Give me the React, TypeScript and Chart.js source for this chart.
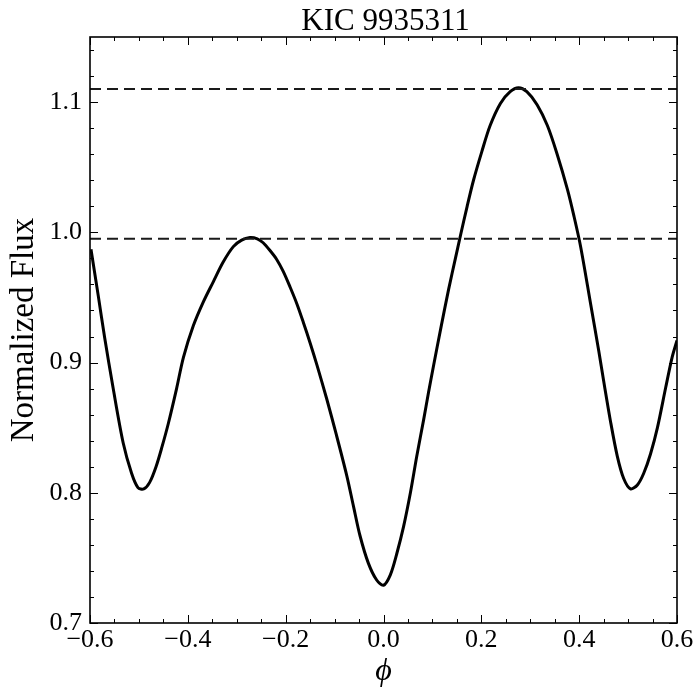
import React, { useEffect, useRef } from "react";
import { Chart, registerables } from "chart.js";

Chart.register(...registerables);

// Phase values (phi)
const phase = [
  -0.598, -0.583, -0.57, -0.553, -0.532, -0.515, -0.502, -0.49, -0.478, -0.465,
  -0.453, -0.44, -0.423, -0.409, -0.389, -0.369, -0.348, -0.328, -0.307, -0.29,
  -0.273, -0.258, -0.246, -0.232, -0.218, -0.205, -0.191, -0.177, -0.164, -0.15,
  -0.136, -0.116, -0.096, -0.075, -0.061, -0.048, -0.031, -0.014, 0.0, 0.014,
  0.027, 0.041, 0.055, 0.068, 0.082, 0.092, 0.102, 0.118, 0.133, 0.147,
  0.157, 0.171, 0.184, 0.201, 0.218, 0.239, 0.259, 0.276, 0.293, 0.314,
  0.335, 0.355, 0.376, 0.389, 0.403, 0.423, 0.44, 0.45, 0.464, 0.478,
  0.491, 0.505, 0.519, 0.532, 0.546, 0.56, 0.577, 0.59, 0.6,
];

// Normalized flux at each phase
const flux = [
  0.987, 0.951, 0.919, 0.881, 0.838, 0.815, 0.804, 0.803, 0.808, 0.82,
  0.835, 0.853, 0.88, 0.904, 0.928, 0.946, 0.962, 0.977, 0.989, 0.994,
  0.996, 0.995, 0.992, 0.986, 0.979, 0.97, 0.958, 0.945, 0.931, 0.915,
  0.898, 0.872, 0.844, 0.813, 0.789, 0.767, 0.746, 0.733, 0.729, 0.737,
  0.753, 0.774, 0.8, 0.828, 0.856, 0.877, 0.897, 0.928, 0.956, 0.98,
  0.997, 1.02, 1.04, 1.062, 1.082, 1.099, 1.108, 1.111, 1.108, 1.098,
  1.082, 1.06, 1.033, 1.013, 0.989, 0.946, 0.909, 0.886, 0.855, 0.828,
  0.811, 0.803, 0.806, 0.815, 0.83, 0.85, 0.881, 0.904, 0.917,
];

const upperLevel = 1.11;
const lowerLevel = 0.995;

const xMajorTicks = [-0.6, -0.4, -0.2, 0.0, 0.2, 0.4, 0.6];
const xTickLabels = ["\u22120.6", "\u22120.4", "\u22120.2", "0.0", "0.2", "0.4", "0.6"];
const yMajorTicks = [0.7, 0.8, 0.9, 1.0, 1.1];
const yTickLabels = ["0.7", "0.8", "0.9", "1.0", "1.1"];

const titleText = "KIC 9935311";
const xAxisTitle = "\u03d5";
const yAxisTitle = "Normalized Flux";

const X_MIN = -0.6;
const X_MAX = 0.6;
const Y_MIN = 0.7;
const Y_MAX = 1.15;
const X_MINOR_STEP = 0.05;
const Y_MINOR_STEP = 0.02;

const FONT = "'Liberation Serif', 'Times New Roman', serif";

function minorValues(min: number, max: number, step: number): number[] {
  const out: number[] = [];
  const n = Math.round((max - min) / step);
  for (let i = 0; i <= n; i++) out.push(min + i * step);
  return out;
}

const framePlugin = {
  id: "frameTicks",
  afterDraw(chart: any) {
    const { ctx, chartArea: a, scales } = chart;
    const xs = scales.x;
    const ys = scales.y;
    ctx.save();
    ctx.strokeStyle = "#000";
    ctx.lineWidth = 1;
    const majorLen = 8;
    const minorLen = 4;
    const drawX = (v: number, len: number) => {
      const px = Math.round(xs.getPixelForValue(v)) + 0.5;
      ctx.beginPath();
      ctx.moveTo(px, a.bottom);
      ctx.lineTo(px, a.bottom - len);
      ctx.moveTo(px, a.top);
      ctx.lineTo(px, a.top + len);
      ctx.stroke();
    };
    const drawY = (v: number, len: number) => {
      const py = Math.round(ys.getPixelForValue(v)) + 0.5;
      ctx.beginPath();
      ctx.moveTo(a.left, py);
      ctx.lineTo(a.left + len, py);
      ctx.moveTo(a.right, py);
      ctx.lineTo(a.right - len, py);
      ctx.stroke();
    };
    minorValues(X_MIN, X_MAX, X_MINOR_STEP).forEach((v) => drawX(v, minorLen));
    minorValues(Y_MIN, Y_MAX, Y_MINOR_STEP).forEach((v) => drawY(v, minorLen));
    xMajorTicks.forEach((v) => drawX(v, majorLen));
    yMajorTicks.forEach((v) => drawY(v, majorLen));

    ctx.lineWidth = 1.6;
    ctx.strokeRect(a.left, a.top, a.right - a.left, a.bottom - a.top);

    ctx.fillStyle = "#000";
    ctx.font = `31px ${FONT}`;
    ctx.textAlign = "center";
    ctx.textBaseline = "alphabetic";
    ctx.fillText(titleText, (a.left + a.right) / 2 + 2, 30);
    ctx.restore();
  },
};

function labelFor(ticks: number[], labels: string[], v: number): string {
  const i = ticks.findIndex((t) => Math.abs(t - v) < 1e-9);
  return i >= 0 ? labels[i] : "";
}

export default function App() {
  const canvasRef = useRef<HTMLCanvasElement | null>(null);

  useEffect(() => {
    if (!canvasRef.current) return;
    const curve = phase.map((p, i) => ({ x: p, y: flux[i] }));
    const chart = new Chart(canvasRef.current, {
      type: "scatter",
      data: {
        datasets: [
          {
            data: [
              { x: X_MIN, y: upperLevel },
              { x: X_MAX, y: upperLevel },
            ],
            showLine: true,
            borderColor: "#1a1a1a",
            borderWidth: 2,
            borderDash: [11, 6],
            pointRadius: 0,
          },
          {
            data: [
              { x: X_MIN, y: lowerLevel },
              { x: X_MAX, y: lowerLevel },
            ],
            showLine: true,
            borderColor: "#1a1a1a",
            borderWidth: 2,
            borderDash: [11, 6],
            pointRadius: 0,
          },
          {
            data: curve,
            showLine: true,
            borderColor: "#000",
            borderWidth: 3,
            tension: 0.3,
            pointRadius: 0,
          },
        ],
      },
      options: {
        responsive: false,
        animation: false,
        devicePixelRatio: 1,
        layout: { padding: { top: 37, right: 19, left: 0, bottom: 0 } },
        plugins: {
          legend: { display: false },
          tooltip: { enabled: false },
          title: { display: false },
        },
        scales: {
          x: {
            type: "linear",
            min: X_MIN,
            max: X_MAX,
            afterBuildTicks: (s: any) => {
              s.ticks = xMajorTicks.map((v) => ({ value: v }));
            },
            afterFit: (s: any) => {
              s.height = 71;
            },
            grid: { display: false, drawTicks: false },
            border: { display: false },
            ticks: {
              autoSkip: false,
              maxRotation: 0,
              padding: 2,
              color: "#000",
              font: { family: FONT, size: 26 },
              callback: (v: any) => labelFor(xMajorTicks, xTickLabels, Number(v)),
            },
            title: {
              display: true,
              text: xAxisTitle,
              color: "#000",
              font: { family: FONT, size: 32, style: "italic" },
              padding: { top: 0, bottom: 3 },
            },
          },
          y: {
            type: "linear",
            min: Y_MIN,
            max: Y_MAX,
            afterBuildTicks: (s: any) => {
              s.ticks = yMajorTicks.map((v) => ({ value: v }));
            },
            afterFit: (s: any) => {
              s.width = 90;
            },
            grid: { display: false, drawTicks: false },
            border: { display: false },
            ticks: {
              autoSkip: false,
              padding: 8,
              color: "#000",
              font: { family: FONT, size: 26 },
              callback: (v: any) => labelFor(yMajorTicks, yTickLabels, Number(v)),
            },
            title: {
              display: true,
              text: yAxisTitle,
              color: "#000",
              font: { family: FONT, size: 33 },
              padding: { top: 5, bottom: 0 },
            },
          },
        },
      },
      plugins: [framePlugin],
    } as any);
    return () => chart.destroy();
  }, []);

  return (
    <div style={{ position: "fixed", left: 0, top: 0, width: 696, height: 694, background: "#fff" }}>
      <canvas ref={canvasRef} width={696} height={694} style={{ display: "block" }} />
    </div>
  );
}
